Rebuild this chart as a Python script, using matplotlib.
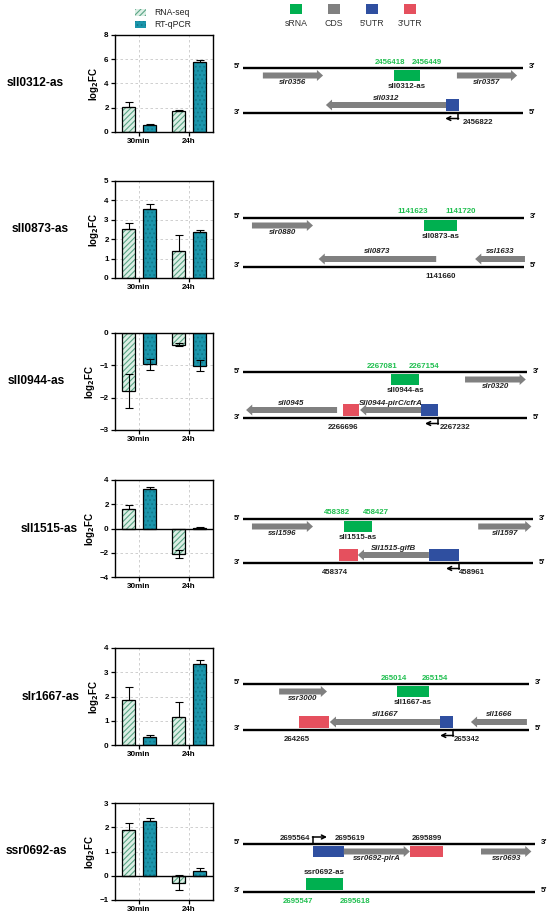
import matplotlib
import numpy as np

matplotlib.use("Agg")
import matplotlib.pyplot as plt  # noqa: E402
from matplotlib.patches import FancyArrow, Patch, Rectangle  # noqa: E402

# ---------------------------------------------------------------------------
# Data
# ---------------------------------------------------------------------------

SRNA_NAMES = ["sll0312-as", "sll0873-as", "sll0944-as", "sll1515-as", "slr1667-as", "ssr0692-as"]
TIMEPOINTS = ["30min", "24h"]

RNASEQ_MEAN = [[2.05, 1.74], [2.55, 1.40], [-1.79, -0.36], [1.62, -2.07], [1.87, 1.15], [1.87, -0.28]]
RNASEQ_ERR = [[0.45, 0.10], [0.27, 0.82], [0.52, 0.05], [0.35, 0.33], [0.54, 0.61], [0.30, 0.32]]
QPCR_MEAN = [[0.56, 5.78], [3.57, 2.39], [-0.97, -1.01], [3.22, 0.03], [0.31, 3.34], [2.27, 0.19]]
QPCR_ERR = [[0.08, 0.12], [0.26, 0.06], [0.17, 0.16], [0.20, 0.08], [0.10, 0.17], [0.12, 0.14]]

Y_LIMITS = [(0, 8), (0, 5), (-3, 0), (-4, 4), (0, 4), (-1, 3)]
Y_STEPS = [2, 1, 1, 2, 1, 1]

LEGEND_LABELS = ["sRNA", "CDS", "5'UTR", "3'UTR"]
FEATURE_KINDS = ["srna", "cds", "utr5", "utr3"]

# schematic gene maps: (kind, strand, start, end, label), x in schematic units
GENES = [
    [("cds", "+", 7.1, 28.6, "slr0356"), ("srna", "+", 53.9, 63.2, "sll0312-as"),
     ("cds", "+", 76.4, 97.9, "slr0357"), ("cds", "-", 29.6, 72.9, "sll0312"),
     ("utr5", "-", 72.5, 77.1, "")],
    [("cds", "+", 3.2, 25.0, "slr0880"), ("srna", "+", 64.6, 76.4, "sll0873-as"),
     ("cds", "-", 27.0, 69.0, "sll0873"), ("cds", "-", 82.9, 100.7, "ssl1633")],
    [("srna", "+", 52.9, 62.9, "sll0944-as"), ("cds", "+", 79.3, 101.0, "slr0320"),
     ("cds", "-", 1.1, 33.6, "sll0945"), ("utr3", "-", 35.7, 41.4, ""),
     ("cds", "-", 41.8, 63.6, "Sll0944-pirC/cfrA"), ("utr5", "-", 63.6, 69.6, "")],
    [("cds", "+", 3.2, 25.0, "ssl1596"), ("srna", "+", 36.0, 46.0, "sll1515-as"),
     ("cds", "+", 84.0, 103.0, "sll1597"), ("utr3", "-", 34.3, 41.0, ""),
     ("cds", "-", 41.0, 66.4, "Sll1515-gifB"), ("utr5", "-", 66.4, 77.1, "")],
    [("cds", "+", 12.9, 30.0, "ssr3000"), ("srna", "+", 55.0, 66.4, "sll1667-as"),
     ("utr3", "-", 20.0, 30.7, ""), ("cds", "-", 31.0, 70.4, "sll1667"),
     ("utr5", "-", 70.4, 75.0, ""), ("cds", "-", 81.4, 101.4, "sll1666")],
    [("utr5", "+", 25.0, 36.0, ""), ("cds", "+", 36.0, 59.6, "ssr0692-pirA"),
     ("utr3", "+", 59.6, 71.4, ""), ("cds", "+", 85.0, 103.0, "ssr0693"),
     ("srna", "-", 22.5, 35.7, "ssr0692-as")],
]

# genome coordinate labels: (text, strand, x, is_srna_boundary)
COORDS = [
    [("2456418", "+", 52.5, True), ("2456449", "+", 65.7, True), ("2456822", "-", 83.9, False)],
    [("1141623", "+", 60.7, True), ("1141720", "+", 77.9, True), ("1141660", "-", 70.7, False)],
    [("2267081", "+", 49.6, True), ("2267154", "+", 64.6, True),
     ("2266696", "-", 35.7, False), ("2267232", "-", 75.7, False)],
    [("458382", "+", 33.6, True), ("458427", "+", 47.5, True),
     ("458374", "-", 32.9, False), ("458961", "-", 81.8, False)],
    [("265014", "+", 53.9, True), ("265154", "+", 68.6, True),
     ("264265", "-", 19.3, False), ("265342", "-", 80.0, False)],
    [("2695564", "+", 18.6, False), ("2695619", "+", 38.2, False), ("2695899", "+", 65.7, False),
     ("2695547", "-", 19.6, True), ("2695618", "-", 40.0, True)],
]

# transcription start sites: (strand, x)
TSS = [("-", 76.8), None, ("-", 69.6), ("-", 77.1), ("-", 75.0), ("+", 25.0)]
REGION_LEN = [100.0, 100.4, 101.4, 103.6, 102.1, 104.3]

# ---------------------------------------------------------------------------
# Style / layout
# ---------------------------------------------------------------------------

W, H = 550, 918
plt.rcParams["font.family"] = ["Liberation Sans", "DejaVu Sans"]
plt.rcParams["hatch.linewidth"] = 0.8

FEATURE_COLORS = {"srna": "#00b050", "cds": "#808080", "utr5": "#2f4fa0", "utr3": "#e5505e"}
RNASEQ_FACE, RNASEQ_HATCH = "#dcefe5", "#5aa585"
QPCR_FACE, QPCR_HATCH = "#1b95ab", "#11798c"
GREEN_TXT = "#1fbf4f"

BAR_TOPS = [35, 181, 333, 480, 648, 803]
BAR_H = 97
BAR_LEFT, BAR_RIGHT = 115, 213
LABEL_X = [7, 12, 8, 21, 22, 6]

STRAND_Y = [68, 218, 372, 519, 684, 844]
STRAND_GAP = [45, 49, 46, 44, 46, 48]
PX_PER_UNIT = 2.8
X0_PX = 243


def px_axes(fig, left, top, width, height):
    return fig.add_axes([left / W, 1 - (top + height) / H, width / W, height / H])


fig = plt.figure(figsize=(W / 100, H / 100), dpi=100)

# ---------------------------------------------------------------------------
# Bar charts
# ---------------------------------------------------------------------------

gx = np.arange(len(TIMEPOINTS))
bw, off = 0.26, 0.21
for i, name in enumerate(SRNA_NAMES):
    ax = px_axes(fig, BAR_LEFT, BAR_TOPS[i], BAR_RIGHT - BAR_LEFT, BAR_H)
    lo, hi = Y_LIMITS[i]
    ax.set_xlim(-0.48, 1.48)
    ax.set_ylim(lo, hi)
    ax.set_yticks(np.arange(lo, hi + 0.01, Y_STEPS[i]))
    ax.set_xticks(gx)
    ax.set_xticklabels(TIMEPOINTS)
    ax.grid(True, linestyle=(0, (3, 3)), color="#c8c8c8", linewidth=0.6)
    ax.set_axisbelow(True)

    for vals, errs, face, hatch_c, hatch, dx in [
        (RNASEQ_MEAN[i], RNASEQ_ERR[i], RNASEQ_FACE, RNASEQ_HATCH, "//////", -off),
        (QPCR_MEAN[i], QPCR_ERR[i], QPCR_FACE, QPCR_HATCH, "....", off),
    ]:
        vals = np.array(vals)
        errs = np.array(errs)
        ax.bar(gx + dx, vals, bw, color=face, edgecolor=hatch_c, hatch=hatch, linewidth=0, zorder=2)
        ax.bar(gx + dx, vals, bw, fill=False, edgecolor="black", linewidth=0.9, zorder=3)
        lower = np.where(vals < 0, errs, 0)
        ax.errorbar(gx + dx, vals, yerr=[lower, errs], fmt="none", ecolor="black",
                    elinewidth=0.8, capsize=2.6, capthick=0.8, zorder=4)

    if lo < 0 < hi:
        ax.axhline(0, color="black", linewidth=1.0, zorder=3)
    for sp in ax.spines.values():
        sp.set_linewidth(1.0)
        sp.set_color("black")
    ax.tick_params(direction="out", length=3, width=0.9, labelsize=5.8, pad=1.5)
    for lbl in ax.get_xticklabels() + ax.get_yticklabels():
        lbl.set_fontweight("bold")
    ax.set_ylabel("log$_\\mathbf{2}$FC", fontsize=7, fontweight="bold", labelpad=2)

    fig.text(LABEL_X[i] / W, 1 - (BAR_TOPS[i] + BAR_H / 2) / H, name,
             fontsize=8.6, fontweight="bold", ha="left", va="center")

# bar legend
handles = [
    Patch(facecolor=RNASEQ_FACE, edgecolor=RNASEQ_HATCH, hatch="//////", linewidth=0),
    Patch(facecolor=QPCR_FACE, edgecolor=QPCR_HATCH, hatch="....", linewidth=0),
]
fig.legend(handles, ["RNA-seq", "RT-qPCR"], loc="upper left", bbox_to_anchor=(127 / W, 1 - 0.5 / H),
           frameon=False, fontsize=6.2, handlelength=1.3, handleheight=0.8,
           labelspacing=0.35, handletextpad=1.0, labelcolor="#222222")

# ---------------------------------------------------------------------------
# Feature legend
# ---------------------------------------------------------------------------

lax = px_axes(fig, 277, 0, 152, 30)
lax.set_xlim(-0.5, len(LEGEND_LABELS) - 0.5)
lax.set_ylim(30, 0)
lax.axis("off")
for k, (lab, kind) in enumerate(zip(LEGEND_LABELS, FEATURE_KINDS)):
    lax.add_patch(Rectangle((k - 0.17, 4), 0.34, 10, color=FEATURE_COLORS[kind], lw=0))
    lax.text(k, 23, lab, fontsize=6.3, ha="center", va="center", color="#333333")

# ---------------------------------------------------------------------------
# Gene maps
# ---------------------------------------------------------------------------

fs = 5.7
for i in range(len(SRNA_NAMES)):
    T, G = STRAND_Y[i], STRAND_GAP[i]
    ya, yb = -25, G + 20
    dax = px_axes(fig, 220, T + ya, 330, yb - ya)
    dax.set_xlim((220 - X0_PX) / PX_PER_UNIT, (550 - X0_PX) / PX_PER_UNIT)
    dax.set_ylim(yb, ya)
    dax.axis("off")

    end = REGION_LEN[i]
    for y, left, right in [(0, "5’", "3’"), (G, "3’", "5’")]:
        dax.plot([0, end], [y, y], color="black", linewidth=1.7, solid_capstyle="butt")
        dax.text(-2.2, y - 1, left, fontsize=5.8, fontweight="bold", ha="center", va="center")
        dax.text(end + 3.2, y - 1, right, fontsize=5.8, fontweight="bold", ha="center", va="center")

    for kind, strand, x1, x2, label in GENES[i]:
        lane = 7.5 if strand == "+" else G - 8
        color = FEATURE_COLORS[kind]
        if kind == "cds":
            if strand == "+":
                arr = FancyArrow(x1, lane, x2 - x1, 0, width=6, head_width=11, head_length=2.2,
                                 length_includes_head=True, color=color, lw=0)
            else:
                arr = FancyArrow(x2, lane, x1 - x2, 0, width=6, head_width=11, head_length=2.2,
                                 length_includes_head=True, color=color, lw=0)
            dax.add_patch(arr)
            ly = lane + 7 if strand == "+" else lane - 7
            dax.text((x1 + x2) / 2, ly, label, fontsize=fs, fontstyle="italic", fontweight="bold",
                     ha="center", va="center", color="#222222")
        else:
            dax.add_patch(Rectangle((x1, lane - 5.8), x2 - x1, 11.6, color=color, lw=0))
            if label:
                ly = lane + 11 if strand == "+" else lane - 11
                dax.text((x1 + x2) / 2, ly, label, fontsize=fs, fontweight="bold",
                         ha="center", va="center", color="#222222")

    for text, strand, x, is_srna in COORDS[i]:
        y = -6 if strand == "+" else G + 9.5
        dax.text(x, y, text, fontsize=fs, fontweight="bold", ha="center", va="center",
                 color=GREEN_TXT if is_srna else "#222222")

    if TSS[i] is not None:
        strand, x = TSS[i]
        if strand == "-":
            y0, y1, dx = G, G + 5.5, -4.6
        else:
            y0, y1, dx = 0, -7, 5.0
        dax.plot([x, x], [y0, y1], color="black", linewidth=1.1)
        dax.annotate("", xy=(x + dx, y1), xytext=(x - 0.2 * np.sign(dx), y1),
                     arrowprops=dict(arrowstyle="->", lw=1.1, color="black",
                                     shrinkA=0, shrinkB=0, mutation_scale=7))

fig.savefig("out.png", dpi=100)
